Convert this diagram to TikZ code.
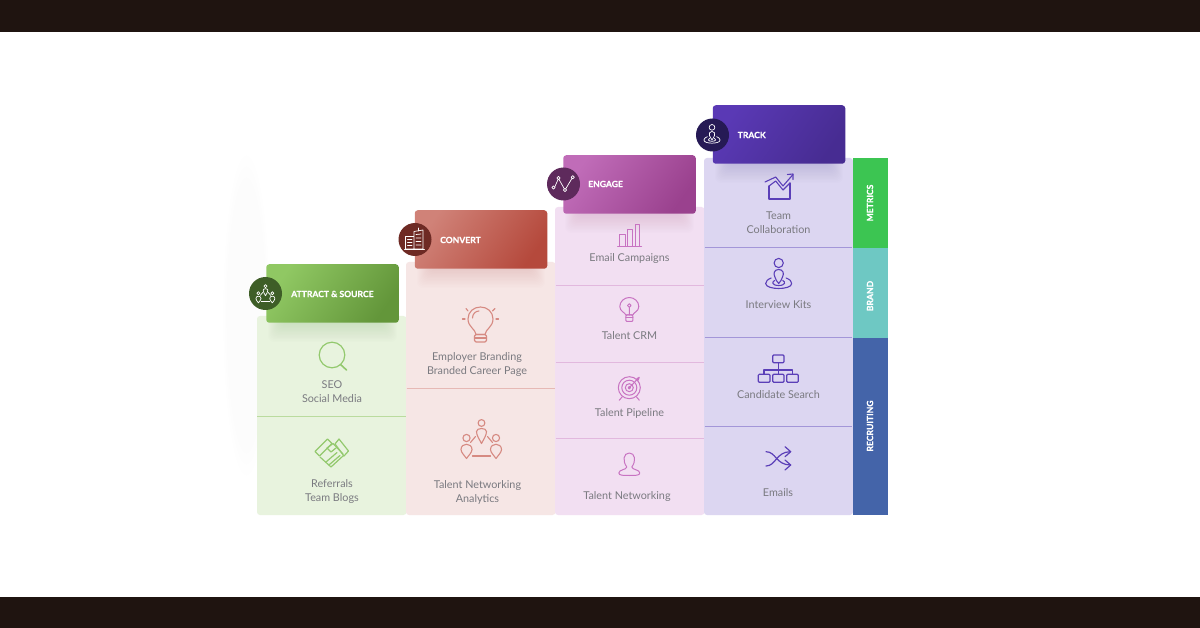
\documentclass[tikz,border=0pt]{standalone}
\usepackage{fontspec}
\usetikzlibrary{fadings}
\setmainfont{Lato}
\newfontfamily\hfont[BoldFeatures={FakeBold=0.6}]{Lato}
\definecolor{barc}{HTML}{1F1410}
\definecolor{txtc}{HTML}{7A7A80}
\definecolor{gcol}{HTML}{E8F3DE}\definecolor{gdiv}{HTML}{BADB9E}\definecolor{gico}{HTML}{93C96E}
\definecolor{pcol}{HTML}{F6E6E5}\definecolor{pdiv}{HTML}{E6B9B5}\definecolor{pico}{HTML}{D68A82}
\definecolor{mcol}{HTML}{F2DFF2}\definecolor{mdiv}{HTML}{E2B8DE}\definecolor{mico}{HTML}{C873C2}
\definecolor{lcol}{HTML}{DCD6F1}\definecolor{ldiv}{HTML}{A396D8}\definecolor{lico}{HTML}{5B3FB8}
\definecolor{g1}{HTML}{90C863}\definecolor{g2}{HTML}{63963A}\definecolor{gc}{HTML}{3E5E27}
\definecolor{r1}{HTML}{D08278}\definecolor{r2}{HTML}{B5493C}\definecolor{rc}{HTML}{6E2A24}
\definecolor{m1}{HTML}{C06CB8}\definecolor{m2}{HTML}{9A418E}\definecolor{mc}{HTML}{5E2A5C}
\definecolor{l1}{HTML}{5A39B5}\definecolor{l2}{HTML}{472C92}\definecolor{lc}{HTML}{261A55}
\definecolor{sg}{HTML}{3CC552}\definecolor{st}{HTML}{6EC8C3}\definecolor{sb}{HTML}{4464A9}
\tikzset{
  bodytxt/.style={text=txtc,align=center,inner sep=0pt,font=\fontsize{10.8}{14}\selectfont},
  hdrtxt/.style={text=white,anchor=west,inner sep=0pt,font=\hfont\fontsize{8.6}{10}\selectfont\bfseries},
  sidetxt/.style={text=white,rotate=90,inner sep=0pt,font=\hfont\fontsize{8.6}{10}\selectfont\bfseries},
  hdrbox/.style n args={2}{rounded corners=3pt,minimum width=132.5pt,minimum height=58.5pt,inner sep=0pt,left color=#1,right color=#2,shading angle=55},
  badge/.style={circle,minimum size=33pt,inner sep=0pt},
  ico/.style={line width=#1,line cap=round,line join=round},
  ico/.default=1.1pt
}
\newcommand\iconNet[6]{\begin{scope}[shift={(#1,#2)},scale=#3,draw=#4,ico=#5]
  \draw (0,-13.5) circle[radius=3.4];
  \draw (-5,-5) .. controls (-5,-9) and (5,-9) .. (5,-5) .. controls (5,-1) and (2,3) .. (0,7) .. controls (-2,3) and (-5,-1) .. (-5,-5) -- cycle;
  \draw (-15,1.5) circle[radius=#6];
  \draw (14.5,1.5) circle[radius=#6];
  \draw (-20.5,13) .. controls (-20.5,6) and (-9.5,6) .. (-9.5,13) .. controls (-9.5,16) and (-13,19) .. (-15,22) .. controls (-17,19) and (-20.5,16) .. (-20.5,13) -- cycle;
  \draw (9,13) .. controls (9,6) and (20,6) .. (20,13) .. controls (20,16) and (16.5,19) .. (14.5,22) .. controls (12.5,19) and (9,16) .. (9,13) -- cycle;
  \draw (-9,19.5) -- (9,19.5);
  \draw (-11,6) -- (-6,0) (11,6) -- (6,0);
\end{scope}}
\newcommand\iconPin[5]{\begin{scope}[shift={(#1,#2)},scale=#3,draw=#4,ico=#5]
  \draw (0,-11.5) circle[radius=4.6];
  \draw (0,-5) .. controls (-4.5,-5) and (-5.5,-1) .. (-4,2) .. controls (-3,5) and (-2,7) .. (0,9) .. controls (2,7) and (3,5) .. (4,2) .. controls (5.5,-1) and (4.5,-5) .. (0,-5) -- cycle;
  \draw (-7.5,3.5) .. controls (-11,5) and (-13,6.5) .. (-13,9) .. controls (-13,12.5) and (-6,14) .. (0,14) .. controls (6,14) and (13,12.5) .. (13,9) .. controls (13,6.5) and (11,5) .. (7.5,3.5);
  \draw (-4,6) .. controls (-7,7) and (-7,11) .. (0,11) .. controls (7,11) and (7,7) .. (4,6);
\end{scope}}
\begin{document}
\begin{tikzpicture}[x=1pt,y=-1pt]
\useasboundingbox (0,0) rectangle (1200,628);
\fill[white] (0,0) rectangle (1200,628);
\fill[barc] (0,0) rectangle (1200,32);
\fill[barc] (0,597) rectangle (1200,628);
% faint smudge on the left
\fill[black,opacity=.012,path fading=circle with fuzzy edge 20 percent] (222,150) rectangle (270,480);
% columns
\fill[gcol,rounded corners=3pt] (257,316) rectangle (406.5,515);
\fill[pcol,rounded corners=3pt] (406,262) rectangle (555.5,515);
\fill[mcol,rounded corners=3pt] (555,207) rectangle (704.5,515);
\fill[lcol,rounded corners=3pt] (704,158) rectangle (853,515);
% dividers
\draw[gdiv,line width=.8pt] (257,416.5) -- (406,416.5);
\draw[pdiv,line width=.8pt] (406.5,388.5) -- (555,388.5);
\draw[mdiv,line width=.8pt] (555.5,285) -- (704,285) (555.5,362) -- (704,362) (555.5,438.5) -- (704,438.5);
\draw[ldiv,line width=.8pt] (704.5,247.5) -- (852,247.5) (704.5,337) -- (852,337) (704.5,426.5) -- (852,426.5);
% side bars
\fill[sg] (852.5,158) rectangle (888,248);
\fill[st] (852.5,248) rectangle (888,338);
\fill[sb] (852.5,338) rectangle (888,515);
\node[sidetxt] (sideM) at (870,203) {METRICS};
\node[sidetxt] (sideB) at (870,296) {BRAND};
\node[sidetxt] (sideR) at (870,426) {RECRUITING};
% header shadows
\foreach \i in {0,...,13}{
  \fill[g2,opacity=.011,rounded corners=6pt] (268+\i,300) rectangle (397-\i,342-\i*1.4);
  \fill[r2,opacity=.01,rounded corners=6pt] (417+\i,246) rectangle (545-\i,288-\i*1.4);
  \fill[m2,opacity=.011,rounded corners=6pt] (565+\i,190) rectangle (694-\i,233-\i*1.4);
  \fill[l2,opacity=.011,rounded corners=6pt] (715+\i,140) rectangle (843-\i,183-\i*1.4);
}
% headers
\node[hdrbox={g1}{g2}] (h1) at (332.5,293.5) {};
\node[hdrbox={r1}{r2}] (h2) at (481,239.5) {};
\node[hdrbox={m1}{m2}] (h3) at (629.5,184.5) {};
\node[hdrbox={l1}{l2}] (h4) at (779,134.5) {};
\node[hdrtxt] (t1) at (291,294) {ATTRACT \& SOURCE};
\node[hdrtxt] (t2) at (440,240) {CONVERT};
\node[hdrtxt] (t3) at (588,184) {ENGAGE};
\node[hdrtxt] (t4) at (737.5,135) {TRACK};
\node[badge,fill=gc] (c1) at (265.5,293.5) {};
\node[badge,fill=rc] (c2) at (415,239.5) {};
\node[badge,fill=mc] (c3) at (563.5,184) {};
\node[badge,fill=lc] (c4) at (712.5,135) {};
% badge icons
\iconNet{265.5}{292.5}{.47}{white}{.7pt}{3.2}
\begin{scope}[draw=white,ico=.7pt]
  \draw (405.5,236.5) rectangle (414,249) (414,249) -- (414,231.5) -- (423,230) -- (423,249) -- cycle;
  \draw (404.5,249) -- (424.5,249);
  \draw (407.5,239) -- (412,239) (407.5,242) -- (412,242) (407.5,245) -- (412,245);
  \draw (416,234.5) -- (421,234) (416,238) -- (421,238) (416,241.5) -- (421,241.5) (416,245) -- (421,245);
  \draw (418.5,231) -- (418.5,228);
  \draw (554.5,187.5) -- (558.5,178.5) -- (565,190) -- (572.5,177.5);
  \draw[fill=mc] (553.5,187.5) circle[radius=1.6];
  \draw[fill=mc] (558.5,178) circle[radius=1.6];
  \draw[fill=mc] (565,190) circle[radius=1.6];
  \draw[fill=mc] (572.7,177.3) circle[radius=1.6];
\end{scope}
\iconPin{712}{134.5}{.62}{white}{.7pt}
% magnifier
\begin{scope}[draw=gico,ico=1.2pt]
  \draw (332,355) circle[radius=12.8];
  \draw[line width=1.6pt] (340.5,364.5) -- (346.5,370);
\end{scope}
% handshake
\begin{scope}[draw=gico,ico=1.2pt,line join=round]
  \draw (315,451.5) -- (327.5,439) -- (332,443.5) -- (319.5,456) -- cycle;
  \draw (335,444) -- (339,439) -- (348.5,451) -- (344,456) -- cycle;
  \draw (320,457) -- (331,467) -- (343.5,455.5);
  \draw (327,448) -- (333,443.5) -- (343,454);
  \draw (327,448) -- (331,452) -- (336,448);
  \draw (326,462) -- (337,452.5) (329.5,464.5) -- (340,455.5);
\end{scope}
% big bulb
\begin{scope}[shift={(480.5,320)},draw=pico,ico=1.1pt]
  \draw (-4.5,14.5) .. controls (-5,9) and (-12.5,7) .. (-12.5,-1) .. controls (-12.5,-8) and (-7,-13) .. (0,-13) .. controls (7,-13) and (12.5,-8) .. (12.5,-1) .. controls (12.5,7) and (5,9) .. (4.5,14.5) -- cycle;
  \draw[rounded corners=1.5pt] (-6,14.5) rectangle (6,22);
  \draw (-6,18) -- (6,18);
  \draw (-18,-1) -- (-15.5,-1) (15.5,-1) -- (18,-1);
  \draw (-14.5,-11.5) -- (-12.5,-9) (14.5,-11.5) -- (12,-9);
  \draw (-8,-2) .. controls (-8,-6) and (-5,-9) .. (-1.5,-9);
\end{scope}
\iconNet{481.5}{436.5}{1}{pico}{1.1pt}{3.6}
% bars
\begin{scope}[draw=mico,ico=1pt]
  \draw (619.5,246) -- (619.5,235) -- (625,235) -- (625,246);
  \draw (627.7,246) -- (627.7,230) -- (632.7,230) -- (632.7,246);
  \draw (635,246) -- (635,225) -- (639.5,225) -- (639.5,246);
  \draw (617.5,246.5) -- (641.5,246.5);
\end{scope}
% small bulb
\begin{scope}[shift={(629.3,307.5)},draw=mico,ico=1pt]
  \draw (-3.5,7.5) .. controls (-4,5) and (-9.5,4) .. (-9.5,-1) .. controls (-9.5,-6) and (-5,-10) .. (0,-10) .. controls (5,-10) and (9.5,-6) .. (9.5,-1) .. controls (9.5,4) and (4,5) .. (3.5,7.5) -- cycle;
  \draw (0,-2) circle[radius=1.8] (0,0) -- (0,7.5);
  \draw[rounded corners=1pt] (-3.5,7.5) rectangle (3.5,14);
  \draw (-3.5,10.5) -- (3.5,10.5);
\end{scope}
% target
\begin{scope}[shift={(629.3,387.7)},draw=mico,ico=1pt]
  \draw (0,0) circle[radius=11];
  \draw (0,0) circle[radius=7.5];
  \draw (0,0) circle[radius=4];
  \draw (0,0) circle[radius=1.2];
  \draw (0,0) -- (10,-10.5) (7.5,-9) -- (10,-10.5) -- (9,-7.5);
  \draw (-7,9) -- (-10,12.5) (7,9) -- (10,12.5);
\end{scope}
% person
\begin{scope}[shift={(629.3,464)},draw=mico,ico=1pt]
  \draw (-2.5,3) .. controls (-7,-3) and (-6,-11) .. (0,-11) .. controls (6,-11) and (7,-3) .. (2.5,3) .. controls (3,6) and (10.5,5.5) .. (10.5,9) .. controls (10.5,11.5) and (6,11.5) .. (0,11.5) .. controls (-6,11.5) and (-10.5,11.5) .. (-10.5,9) .. controls (-10.5,5.5) and (-3,6) .. (-2.5,3) -- cycle;
\end{scope}
% chart
\begin{scope}[draw=lico,ico=1.1pt]
  \draw (769,186) -- (769,199) -- (790,199) -- (790,183);
  \draw (765,182) -- (775.7,177) -- (783,186) -- (793,174.5);
  \draw (787.5,174.5) -- (793,174) -- (793,179.5);
  \draw (769,186) -- (775.7,181) -- (783,190) -- (790,183);
\end{scope}
\iconPin{778.7}{274.5}{1}{lico}{1.1pt}
% hierarchy
\begin{scope}[draw=lico,ico=1.2pt]
  \draw[rounded corners=1pt] (772.7,355) rectangle (784,362.7);
  \draw (778.3,362.7) -- (778.3,370);
  \draw (764,374.3) -- (764,370) -- (792.7,370) -- (792.7,374.3) (778.3,370) -- (778.3,374.3);
  \draw[rounded corners=1pt] (758.3,374.3) rectangle (770,382.3);
  \draw[rounded corners=1pt] (772.7,374.3) rectangle (784,382.3);
  \draw[rounded corners=1pt] (786.7,374.3) rectangle (798.3,382.3);
\end{scope}
% shuffle
\begin{scope}[draw=lico,ico=1.2pt]
  \draw (766,451.7) .. controls (776,451.7) and (776,465) .. (790.5,465);
  \draw (766,466) .. controls (776,466) and (776,451.7) .. (790.5,451.7);
  \draw (785,446.7) -- (790.7,451.7) -- (785,456.7);
  \draw (785,460) -- (790.7,465) -- (785,470);
\end{scope}
% labels
\node[bodytxt] (a1) at (332,392) {SEO\\Social Media};
\node[bodytxt] (a2) at (332,492) {Referrals\\Team Blogs};
\node[bodytxt] (b1) at (477,364.5) {Employer Branding\\Branded Career Page};
\node[bodytxt] (b2) at (477.5,492) {Talent Networking\\Analytics};
\node[bodytxt] (d1) at (629.5,259) {Email Campaigns};
\node[bodytxt] (d2) at (629.5,336) {Talent CRM};
\node[bodytxt] (d3) at (629.5,413) {Talent Pipeline};
\node[bodytxt] (d4) at (627,497) {Talent Networking};
\node[bodytxt] (e1) at (778.5,223) {Team\\Collaboration};
\node[bodytxt] (e2) at (778.5,305) {Interview Kits};
\node[bodytxt] (e3) at (778.5,395) {Candidate Search};
\node[bodytxt] (e4) at (778,493) {Emails};
\end{tikzpicture}
\end{document}
